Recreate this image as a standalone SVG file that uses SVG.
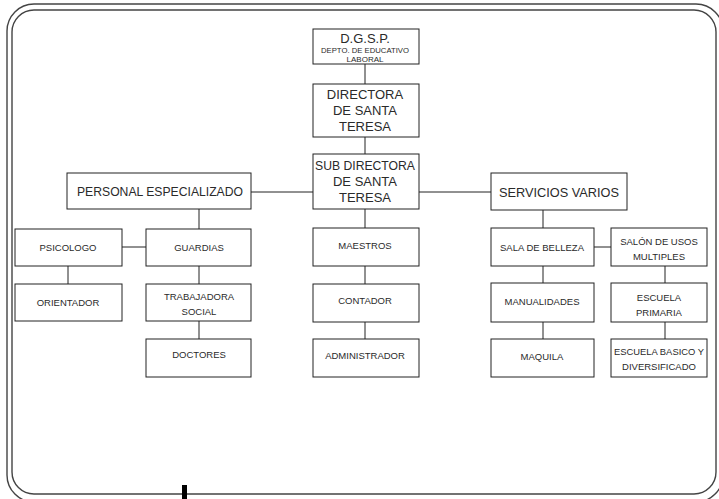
<svg xmlns="http://www.w3.org/2000/svg" width="719" height="499" viewBox="0 0 719 499">
<style>
  .frame{fill:none;stroke:#444;stroke-width:1.4}
  .box{fill:#fff;stroke:#222;stroke-width:1}
  .con line{stroke:#222;stroke-width:1}
  text{font-family:"Liberation Sans","DejaVu Sans",sans-serif;fill:#2a2a2a;text-anchor:middle}
  .s{font-size:9.5px}
  .m{font-size:13px}
  .xs{font-size:8px}
</style>
<rect width="719" height="499" fill="#fff"/>
<rect class="frame" x="7" y="4" width="716" height="498" rx="27"/>
<rect class="frame" x="12" y="10" width="704" height="484" rx="22"/>
<rect x="182" y="485" width="5" height="14" fill="#000"/>

<g class="con">
  <line x1="365" y1="64" x2="365" y2="84"/>
  <line x1="365" y1="137" x2="365" y2="154"/>
  <line x1="365" y1="209" x2="365" y2="228"/>
  <line x1="365" y1="266" x2="365" y2="284"/>
  <line x1="365" y1="322" x2="365" y2="339"/>
  <line x1="251" y1="192" x2="313" y2="192"/>
  <line x1="419" y1="192" x2="491" y2="192"/>
  <line x1="199" y1="209" x2="199" y2="229"/>
  <line x1="122" y1="247" x2="146" y2="247"/>
  <line x1="68" y1="266" x2="68" y2="284"/>
  <line x1="199" y1="266" x2="199" y2="284"/>
  <line x1="199" y1="321" x2="199" y2="339"/>
  <line x1="543" y1="210" x2="543" y2="228"/>
  <line x1="594" y1="247" x2="611" y2="247"/>
  <line x1="543" y1="266" x2="543" y2="283"/>
  <line x1="543" y1="322" x2="543" y2="339"/>
  <line x1="665" y1="266" x2="665" y2="283"/>
  <line x1="665" y1="322" x2="665" y2="339"/>
</g>

<g id="dgsp"><rect class="box" x="313" y="29" width="106" height="35"/>
  <text class="m" x="365" y="43">D.G.S.P.</text>
  <text class="xs" x="365" y="53" textLength="88" lengthAdjust="spacingAndGlyphs">DEPTO. DE EDUCATIVO</text>
  <text class="xs" x="365" y="61.5">LABORAL</text></g>
<g id="directora"><rect class="box" x="313" y="84" width="106" height="53"/>
  <text class="m" x="365" y="99">DIRECTORA</text>
  <text class="m" x="365" y="115">DE SANTA</text>
  <text class="m" x="365" y="131">TERESA</text></g>
<g id="subdirectora"><rect class="box" x="313" y="154" width="106" height="55"/>
  <text class="m" x="365" y="170" textLength="100" lengthAdjust="spacingAndGlyphs">SUB DIRECTORA</text>
  <text class="m" x="365" y="186">DE SANTA</text>
  <text class="m" x="365" y="202">TERESA</text></g>
<g id="personal"><rect class="box" x="67" y="173" width="184" height="36"/>
  <text class="m" x="160" y="196" textLength="166" lengthAdjust="spacingAndGlyphs">PERSONAL  ESPECIALIZADO</text></g>
<g id="servicios"><rect class="box" x="491" y="173" width="136" height="37"/>
  <text class="m" x="559" y="197" textLength="120" lengthAdjust="spacingAndGlyphs">SERVICIOS VARIOS</text></g>

<g id="psicologo"><rect class="box" x="15" y="229" width="107" height="37"/>
  <text class="s" x="68" y="251">PSICOLOGO</text></g>
<g id="guardias"><rect class="box" x="146" y="229" width="105" height="37"/>
  <text class="s" x="199" y="251">GUARDIAS</text></g>
<g id="orientador"><rect class="box" x="15" y="284" width="107" height="37"/>
  <text class="s" x="68" y="306">ORIENTADOR</text></g>
<g id="trabajadora"><rect class="box" x="146" y="284" width="105" height="37"/>
  <text class="s" x="199" y="300">TRABAJADORA</text>
  <text class="s" x="199" y="315">SOCIAL</text></g>
<g id="doctores"><rect class="box" x="146" y="339" width="105" height="38"/>
  <text class="s" x="199" y="358">DOCTORES</text></g>

<g id="maestros"><rect class="box" x="313" y="228" width="106" height="38"/>
  <text class="s" x="365" y="249">MAESTROS</text></g>
<g id="contador"><rect class="box" x="313" y="284" width="106" height="38"/>
  <text class="s" x="365" y="304">CONTADOR</text></g>
<g id="administrador"><rect class="box" x="313" y="339" width="106" height="38"/>
  <text class="s" x="365" y="359">ADMINISTRADOR</text></g>

<g id="sala"><rect class="box" x="491" y="228" width="103" height="38"/>
  <text class="s" x="542" y="251">SALA DE BELLEZA</text></g>
<g id="salon"><rect class="box" x="611" y="228" width="96" height="38"/>
  <text class="s" x="659" y="245">SALÓN DE USOS</text>
  <text class="s" x="659" y="260">MULTIPLES</text></g>
<g id="manualidades"><rect class="box" x="491" y="283" width="103" height="39"/>
  <text class="s" x="542" y="305">MANUALIDADES</text></g>
<g id="primaria"><rect class="box" x="611" y="283" width="96" height="39"/>
  <text class="s" x="659" y="301">ESCUELA</text>
  <text class="s" x="659" y="316">PRIMARIA</text></g>
<g id="maquila"><rect class="box" x="491" y="339" width="103" height="38"/>
  <text class="s" x="542" y="360">MAQUILA</text></g>
<g id="basico"><rect class="box" x="611" y="339" width="96" height="38"/>
  <text class="s" x="659" y="355" textLength="90" lengthAdjust="spacingAndGlyphs">ESCUELA BASICO Y</text>
  <text class="s" x="659" y="370">DIVERSIFICADO</text></g>
</svg>
